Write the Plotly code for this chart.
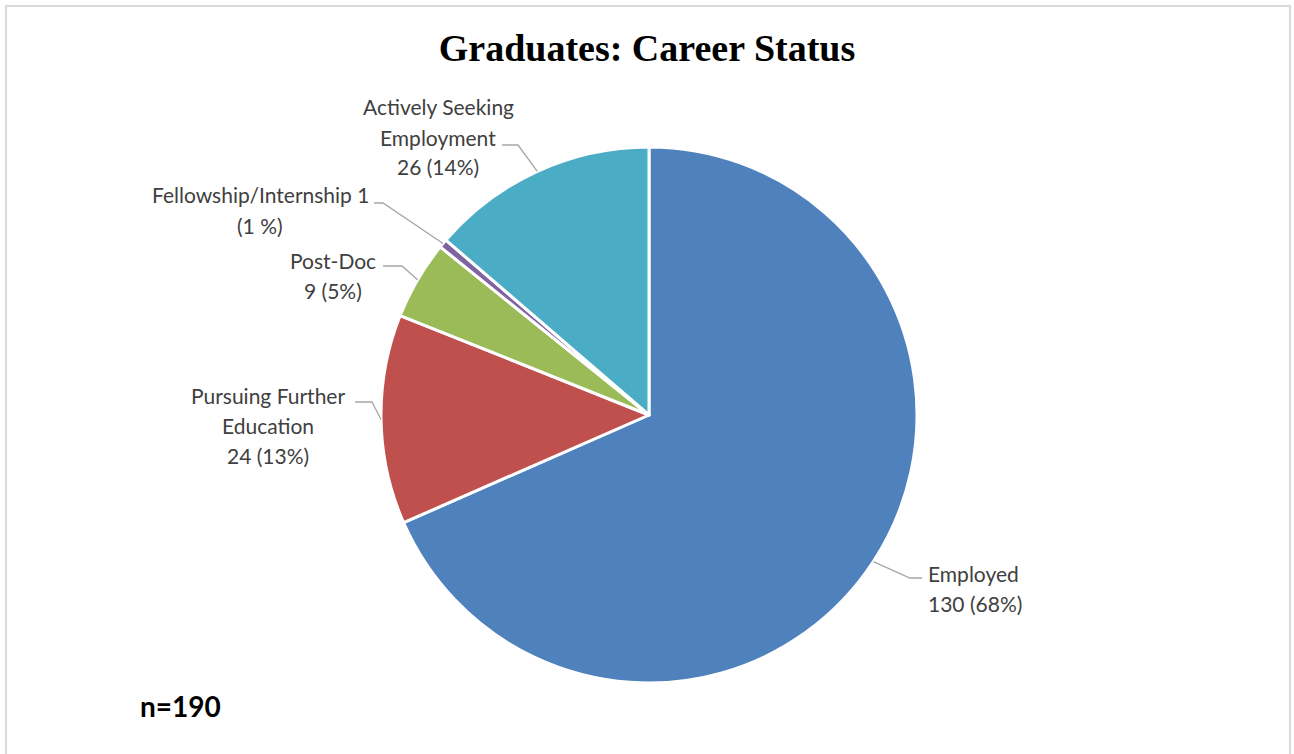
import math
import plotly.graph_objects as go

# data
categories = ['Employed', 'Pursuing Further Education', 'Post-Doc',
              'Fellowship/Internship', 'Actively Seeking Employment']
counts = [130, 24, 9, 1, 26]
colors = ['#4F81BD', '#C0504D', '#9BBB59', '#8064A2', '#4BACC6']
label_lines = [
    ['Employed', '130 (68%)'],
    ['Pursuing Further', 'Education', '24 (13%)'],
    ['Post-Doc', '9 (5%)'],
    ['Fellowship/Internship 1', '(1 %)'],
    ['Actively Seeking', 'Employment', '26 (14%)'],
]
n_total = 190

W, H = 1294, 754
cx, cy, r = 649, 415, 268

def px(x):
    return x / W

def py(y):
    return 1 - y / H

# label placement (pixels): anchor x, xanchor, first line y, elbow, line end
label_pos = [
    (926, 'left', 573, (910, 578), (922, 578)),
    (268, 'center', 395, (372, 402), (355, 402)),
    (333, 'center', 260, (402, 266), (383, 266)),
    (260, 'center', 195, (383, 203), (374, 203)),
    (438, 'center', 107, (518, 145), (502, 145)),
]
line_gap = 30

fig = go.Figure(go.Pie(
    labels=categories, values=counts, sort=False, direction='clockwise',
    rotation=0, textinfo='none', hoverinfo='label+value+percent',
    marker=dict(colors=colors, line=dict(color='white', width=3)),
    domain=dict(x=[px(cx - r), px(cx + r)], y=[py(cy + r), py(cy - r)]),
    showlegend=False,
))

annotations = []
shapes = []
total = sum(counts)
start = 0
for i, v in enumerate(counts):
    mid = (start + v / 2) / total * 2 * math.pi
    start += v
    ex = cx + r * math.sin(mid)
    ey = cy - r * math.cos(mid)
    ax, anchor, y0, elbow, end = label_pos[i]
    shapes.append(dict(
        type='path', xref='paper', yref='paper',
        path=f'M {px(ex)} {py(ey)} L {px(elbow[0])} {py(elbow[1])} L {px(end[0])} {py(end[1])}',
        line=dict(color='#A6A6A6', width=1.3)))
    for j, t in enumerate(label_lines[i]):
        annotations.append(dict(
            text=t, x=px(ax), y=py(y0 + j * line_gap), xref='paper', yref='paper',
            xanchor=anchor, yanchor='middle', showarrow=False,
            font=dict(family='Lato', size=21, color='#404040')))

annotations.append(dict(
    text=f'<b>n={n_total}</b>', x=px(138), y=py(706), xref='paper', yref='paper',
    xanchor='left', yanchor='middle', showarrow=False,
    font=dict(family='Lato', size=28, color='black')))

# chart frame (top, left, right)
shapes.append(dict(
    type='path', xref='paper', yref='paper',
    path=f'M {px(6)} {py(760)} L {px(6)} {py(6)} L {px(1290)} {py(6)} L {px(1290)} {py(760)}',
    line=dict(color='#D9D9D9', width=2)))

fig.update_layout(
    width=W, height=H,
    margin=dict(l=0, r=0, t=0, b=0),
    paper_bgcolor='white',
    title=dict(text='<b>Graduates: Career Status</b>', x=0.5, xanchor='center',
               y=py(48), yanchor='middle',
               font=dict(family='Liberation Serif', size=38, color='black')),
    annotations=annotations,
    shapes=shapes,
)

fig.write_html('out.html', config={'displayModeBar': False},
               post_script="document.body.style.margin='0';")
